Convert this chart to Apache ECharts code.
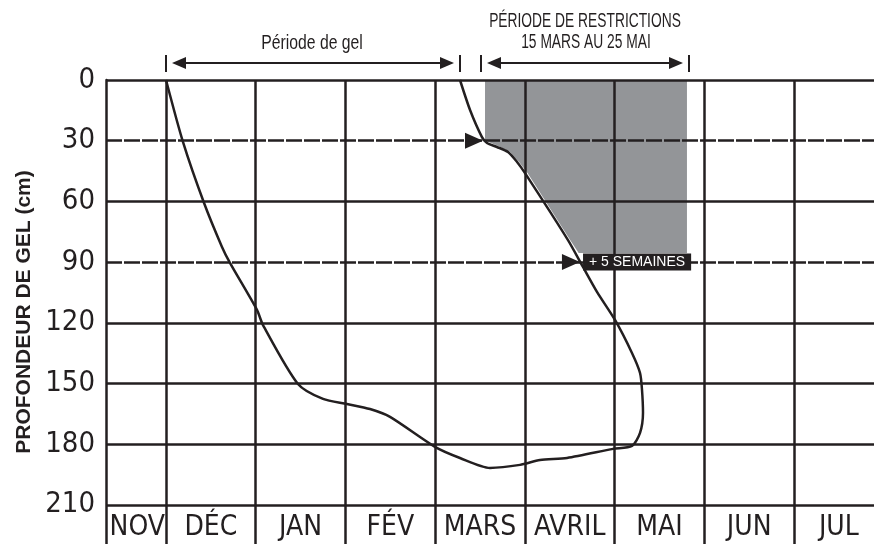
<!DOCTYPE html>
<html>
<head>
<meta charset="utf-8">
<script src="https://cdn.jsdelivr.net/npm/echarts@6/dist/echarts.min.js"></script>
<style>html,body{margin:0;padding:0;background:#fff}#c{width:874px;height:544px}</style>
</head>
<body>
<div id="c"></div>
<script>
// ---- data ----
const months = ['NOV', 'DÉC', 'JAN', 'FÉV', 'MARS', 'AVRIL', 'MAI', 'JUN', 'JUL'];
const monthLabelPos = [0.68, 1.5, 2.5, 3.5, 4.5, 5.5, 6.5, 7.5, 8.5];
const monthBoundaries = [1, 2, 3, 4, 5, 6, 7, 8];
const depthTicks = [0, 30, 60, 90, 120, 150, 180, 210];
const solidDepthLines = [0, 60, 120, 150, 180, 210];
const dashedDepthLines = [30, 90];

// frost front curve (months since Nov 1, depth cm)
const frostMonth = [1.000, 1.189, 1.424, 1.624, 1.713, 2.014, 2.081, 2.471, 2.750, 3.017, 3.274, 3.497, 3.998, 4.277, 4.611, 4.946, 5.169, 5.470, 5.983, 6.194, 6.284, 6.317, 6.306, 6.284, 6.194, 6.005, 5.804, 5.648, 5.481, 5.002, 4.913, 4.812, 4.689, 4.578, 4.522, 4.389, 4.277];
const frostDepth = [0, 30.6, 60.8, 82.5, 90.4, 113.6, 121.1, 150.2, 157.6, 160.1, 162.6, 166.5, 181.3, 186.8, 191.7, 190.2, 187.8, 186.8, 182.3, 180.8, 174.4, 164.5, 153.2, 144.8, 134.9, 118.6, 104.7, 92.4, 79.1, 46.0, 40.5, 35.6, 33.1, 31.1, 28.2, 14.8, 0];

// restriction period shaded zone
const greyMonth = [4.556, 6.807, 6.807, 5.60, 5.505, 5.03, 4.935, 4.835, 4.71, 4.595, 4.556];
const greyDepth = [0, 0, 85.5, 85.5, 79.1, 46.0, 40.5, 35.6, 32.8, 30.6, 30.0];

const arrowMonth = [4.433, 5.514];
const arrowDepth = [30, 90];
const noteMonth = [5.648];
const noteDepth = [90];
const noteText = '+ 5 SEMAINES';

const BLACK = '#231f20';
const GREY = '#939598';
const NARROW = "'Liberation Sans Narrow', 'DejaVu Sans Condensed', 'Liberation Sans', sans-serif";

const chart = echarts.init(document.getElementById('c'), null, {renderer: 'canvas'});

function arrowHead(tipX, y, dir) {
  const base = tipX - dir * 14;
  return {type: 'polygon', shape: {points: [[tipX, y], [base, y - 6], [base, y + 6]]}, style: {fill: BLACK}};
}
function tick(x) {
  return {type: 'line', shape: {x1: x, y1: 55, x2: x, y2: 72}, style: {stroke: BLACK, lineWidth: 2}};
}

const option = {
  animation: false,
  grid: {left: 106, right: 0, top: 80, bottom: 0, containLabel: false},
  xAxis: {
    type: 'value', min: 0.331, max: 8.892,
    axisLine: {show: false},
    axisTick: {show: false, customValues: monthBoundaries},
    splitLine: {show: true, lineStyle: {color: BLACK, width: 2.5}},
    axisLabel: {
      customValues: monthLabelPos, inside: true, margin: 2,
      fontSize: 28, fontFamily: NARROW, color: BLACK,
      formatter: function (v) {
        for (let i = 0; i < monthLabelPos.length; i++) {
          if (Math.abs(monthLabelPos[i] - v) < 0.01) return months[i];
        }
        return '';
      }
    }
  },
  yAxis: {
    type: 'value', inverse: true, min: 0, max: 229.3,
    name: 'PROFONDEUR DE GEL (cm)', nameLocation: 'middle', nameGap: 71,
    nameTextStyle: {fontSize: 21, fontWeight: 'bold', fontFamily: "'Liberation Sans', Arial, sans-serif", color: BLACK},
    axisLine: {show: true, lineStyle: {color: BLACK, width: 2.5}},
    axisTick: {show: false, customValues: solidDepthLines},
    splitLine: {show: true, lineStyle: {color: BLACK, width: 2.5}},
    axisLabel: {customValues: depthTicks, fontSize: 29, fontFamily: NARROW, color: BLACK, margin: 11}
  },
  series: [
    {
      type: 'custom', z: -1, silent: true,
      data: greyMonth.map((m, i) => [m, greyDepth[i]]),
      renderItem: function (params, api) {
        if (params.dataIndex !== 0) return null;
        const pts = greyMonth.map((m, i) => api.coord([m, greyDepth[i]]));
        return {type: 'polygon', shape: {points: pts}, style: {fill: GREY}};
      }
    },
    {
      type: 'line', z: 3,
      data: frostMonth.map((m, i) => [m, frostDepth[i]]),
      showSymbol: false, smooth: 0.25,
      lineStyle: {color: BLACK, width: 2.5},
      markLine: {
        silent: true, symbol: 'none', label: {show: false},
        lineStyle: {color: BLACK, width: 2.5, type: [16, 2]},
        data: dashedDepthLines.map(d => ({yAxis: d}))
      }
    },
    {
      type: 'scatter', z: 4,
      data: arrowMonth.map((m, i) => [m, arrowDepth[i]]),
      symbol: 'path://M0,0L18,8L0,16Z', symbolSize: [18, 16],
      itemStyle: {color: BLACK, opacity: 1}
    },
    {
      type: 'scatter', z: 5,
      data: noteMonth.map((m, i) => [m, noteDepth[i]]),
      symbolSize: 0.1, itemStyle: {color: BLACK, opacity: 1},
      label: {
        show: true, position: 'right', distance: 0, formatter: noteText,
        backgroundColor: BLACK, color: '#fff', fontSize: 14, opacity: 1,
        fontFamily: "'Liberation Sans', Arial, sans-serif",
        padding: [2, 6, 1, 6]
      }
    }
  ],
  graphic: [
    tick(166), tick(460), tick(481), tick(689),
    {type: 'line', shape: {x1: 180, y1: 63, x2: 446, y2: 63}, style: {stroke: BLACK, lineWidth: 2}},
    arrowHead(172, 63, -1), arrowHead(454, 63, 1),
    {type: 'line', shape: {x1: 495, y1: 63, x2: 675, y2: 63}, style: {stroke: BLACK, lineWidth: 2}},
    arrowHead(487, 63, -1), arrowHead(683, 63, 1),
    {type: 'text', x: 312, y: 43, scaleX: 0.75,
     style: {text: 'Période de gel', fill: BLACK, font: "21px 'Liberation Sans', Arial, sans-serif", align: 'center', verticalAlign: 'middle'}},
    {type: 'text', x: 585, y: 21, scaleX: 0.69,
     style: {text: 'PÉRIODE DE RESTRICTIONS', fill: BLACK, font: "20px 'Liberation Sans', Arial, sans-serif", align: 'center', verticalAlign: 'middle'}},
    {type: 'text', x: 586, y: 42, scaleX: 0.69,
     style: {text: '15 MARS AU 25 MAI', fill: BLACK, font: "20px 'Liberation Sans', Arial, sans-serif", align: 'center', verticalAlign: 'middle'}}
  ]
};
chart.setOption(option);
</script>
</body>
</html>
